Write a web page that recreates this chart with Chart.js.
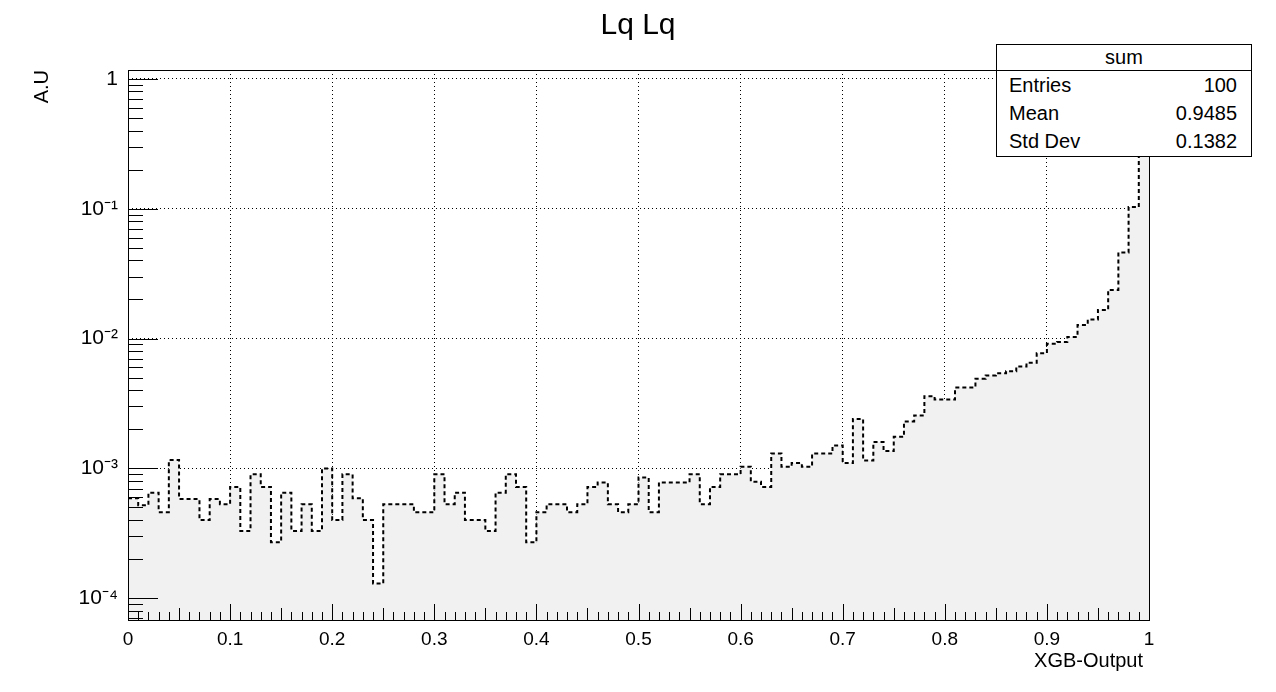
<!DOCTYPE html>
<html><head><meta charset="utf-8">
<script src="https://cdn.jsdelivr.net/npm/chart.js@4"></script>
<style>
body{margin:0;background:#fff;width:1276px;height:692px;overflow:hidden;font-family:"Liberation Sans",Arial,sans-serif}
#wrap{position:absolute;left:0;top:0;width:1276px;height:692px}
#stats{position:absolute;left:996px;top:44px;width:254px;height:111px;border:1px solid #000;background:#fff;font-size:20px}
#stats .h{text-align:center;border-bottom:1px solid #000;height:25px;line-height:25px}
#stats .r{display:flex;justify-content:space-between;padding:0 14px 0 12px;height:28px;line-height:28px}
</style></head><body>
<div id="wrap"><canvas id="c" width="1276" height="692"></canvas></div>
<div id="stats"><div class="h">sum</div>
<div class="r"><span>Entries</span><span>100</span></div>
<div class="r"><span>Mean</span><span>0.9485</span></div>
<div class="r"><span>Std Dev</span><span>0.1382</span></div></div>
<script>
// 100 bins on [0,1], normalised (A.U)
const binEdges = Array.from({length: 101}, (_, i) => i / 100);
const binValues = [
  5.9e-4, 5.2e-4, 6.5e-4, 4.6e-4, 1.16e-3, 5.8e-4, 5.8e-4, 4.0e-4, 5.8e-4, 5.3e-4,
  7.2e-4, 3.3e-4, 9.0e-4, 7.2e-4, 2.7e-4, 6.5e-4, 3.3e-4, 5.3e-4, 3.3e-4, 1.0e-3,
  4.0e-4, 9.0e-4, 5.9e-4, 4.0e-4, 1.3e-4, 5.3e-4, 5.3e-4, 5.3e-4, 4.6e-4, 4.6e-4,
  9.0e-4, 5.3e-4, 6.5e-4, 4.0e-4, 4.0e-4, 3.3e-4, 6.5e-4, 9.0e-4, 7.2e-4, 2.7e-4,
  4.6e-4, 5.3e-4, 5.3e-4, 4.6e-4, 5.3e-4, 7.2e-4, 7.8e-4, 5.3e-4, 4.6e-4, 5.3e-4,
  8.5e-4, 4.6e-4, 7.8e-4, 7.8e-4, 7.8e-4, 9.0e-4, 5.3e-4, 7.2e-4, 9.0e-4, 9.0e-4,
  1.03e-3, 7.9e-4, 7.2e-4, 1.3e-3, 1.03e-3, 1.1e-3, 1.03e-3, 1.3e-3, 1.3e-3, 1.5e-3,
  1.1e-3, 2.4e-3, 1.15e-3, 1.6e-3, 1.36e-3, 1.75e-3, 2.3e-3, 2.56e-3, 3.6e-3, 3.4e-3,
  3.4e-3, 4.2e-3, 4.2e-3, 4.9e-3, 5.2e-3, 5.4e-3, 5.6e-3, 6.1e-3, 6.5e-3, 7.7e-3,
  9.1e-3, 9.4e-3, 1.03e-2, 1.27e-2, 1.4e-2, 1.66e-2, 2.37e-2, 4.6e-2, 0.103, 0.75
];
const xTicks = [0, 0.1, 0.2, 0.3, 0.4, 0.5, 0.6, 0.7, 0.8, 0.9, 1];
const yDecades = [1e-4, 1e-3, 1e-2, 1e-1, 1];
const yLabels = {'0.0001': '10⁻⁴', '0.001': '10⁻³', '0.01': '10⁻²', '0.1': '10⁻¹', '1': '1'};

// point i carries bin i; with stepped 'before' the segment [x_i, x_i+1] takes the left value
const pts = binEdges.map((x, i) => ({x, y: binValues[Math.min(i, binValues.length - 1)]}));
const font = '"Liberation Sans", Arial, sans-serif';

const frame = {
  id: 'frame',
  afterDraw(chart) {
    const {ctx, chartArea: a, scales: {x, y}} = chart;
    ctx.save();
    ctx.strokeStyle = '#000'; ctx.lineWidth = 1;
    ctx.strokeRect(a.left + 0.5, a.top + 0.5, a.right - a.left, a.bottom - a.top);
    ctx.beginPath();
    for (let i = 0; i <= 100; i++) {
      const px = Math.round(x.getPixelForValue(i / 100)) + 0.5;
      const len = i % 10 === 0 ? 16 : (i % 5 === 0 ? 12 : 8);
      ctx.moveTo(px, a.bottom); ctx.lineTo(px, a.bottom - len);
    }
    for (let e = -5; e <= 0; e++) {
      for (let m = 1; m <= 9; m++) {
        const v = m * Math.pow(10, e);
        if (v < y.min || v > y.max) continue;
        const py = Math.round(y.getPixelForValue(v)) + 0.5;
        const len = m === 1 ? 30 : 15;
        ctx.moveTo(a.left, py); ctx.lineTo(a.left + len, py);
      }
    }
    ctx.stroke();
    ctx.fillStyle = '#000';
    ctx.font = '30px ' + font; ctx.textAlign = 'center'; ctx.textBaseline = 'middle';
    ctx.fillText('Lq Lq', 638, 26);
    ctx.font = '20px ' + font; ctx.textAlign = 'right'; ctx.textBaseline = 'middle';
    ctx.fillText('XGB-Output', a.right - 6, 661);
    ctx.translate(42, 70); ctx.rotate(-Math.PI / 2);
    ctx.fillText('A.U', 0, 0);
    ctx.restore();
  }
};

new Chart(document.getElementById('c'), {
  type: 'line',
  data: {datasets: [{
    data: pts,
    stepped: 'before',
    borderColor: '#000',
    borderWidth: 2,
    borderDash: [4, 3],
    backgroundColor: '#f1f1f1',
    fill: 'start',
    pointRadius: 0
  }]},
  options: {
    responsive: false, animation: false,
    layout: {padding: {left: 0, right: 127, top: 70, bottom: 0}},
    plugins: {legend: {display: false}, tooltip: {enabled: false}},
    scales: {
      x: {
        type: 'linear', min: 0, max: 1,
        afterFit: s => { s.height = 72; },
        afterBuildTicks: s => { s.ticks = xTicks.map(v => ({value: v})); },
        grid: {color: '#000', drawTicks: false, lineWidth: 1},
        border: {display: false, dash: [1, 3]},
        ticks: {color: '#000', padding: 8, font: {size: 19, family: font}, maxRotation: 0,
          callback: v => String(+v.toFixed(1))}
      },
      y: {
        type: 'logarithmic', min: 6.8e-5, max: 1.17,
        afterFit: s => { s.width = 128; },
        afterBuildTicks: s => { s.ticks = yDecades.map(v => ({value: v})); },
        grid: {color: '#000', drawTicks: false, lineWidth: 1},
        border: {display: false, dash: [1, 3]},
        ticks: {color: '#000', padding: 10, font: {size: 21, family: font},
          callback: v => yLabels[String(v)] || ''}
      }
    }
  },
  plugins: [frame]
});
</script>
</body></html>
